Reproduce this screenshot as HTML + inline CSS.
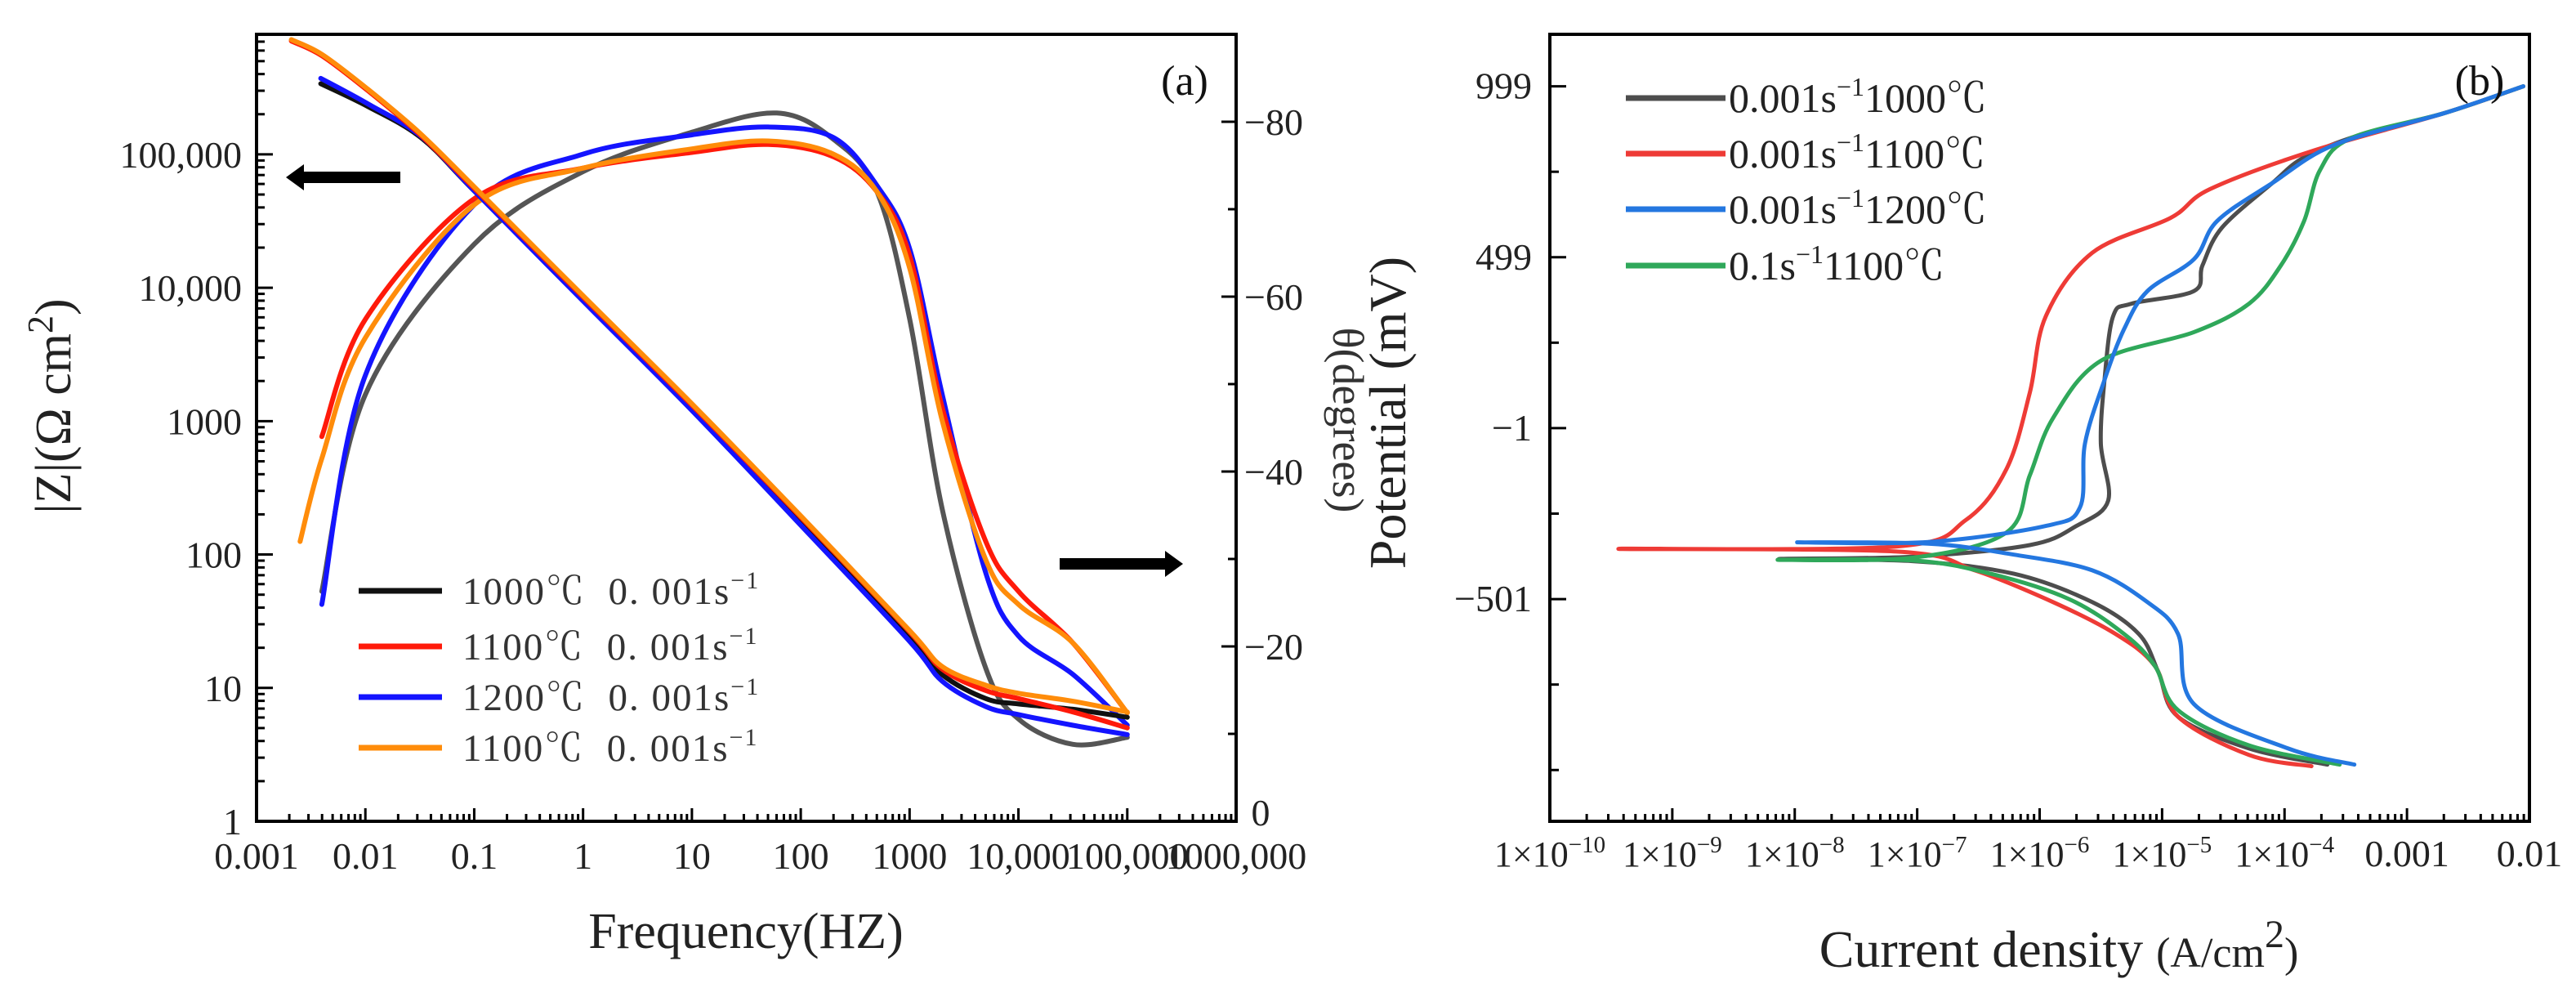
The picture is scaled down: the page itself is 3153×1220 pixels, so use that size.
<!DOCTYPE html>
<html><head><meta charset="utf-8">
<style>
html,body{margin:0;padding:0;background:#fff;}
svg{display:block;font-family:"Liberation Serif","Noto Serif CJK SC",serif;}
</style></head>
<body>
<svg id="chart" width="3153" height="1220" viewBox="0 0 3153 1220" xmlns="http://www.w3.org/2000/svg">
<g id="pa"></g>
<g id="pb"></g>
</svg>
<script>
// ---------- Panel (a) data: log10(frequency), log10(|Z|), phase (deg, magnitude) ----------
const zBlackF = [-2.41,-1.98,-1.48,-0.98,0,1,2,3,3.3,3.7,4,4.5,5];
const zBlackV = [5.53,5.36,5.12,4.71,3.92,3.10,2.25,1.39,1.10,0.92,0.88,0.84,0.78];
const zBlueF  = [-2.41,-1.98,-1.48,-0.98,0,1,2,3,3.3,3.7,4,4.5,5];
const zBlueV  = [5.57,5.38,5.13,4.71,3.90,3.08,2.22,1.35,1.05,0.86,0.80,0.72,0.65];
const zRedF   = [-2.68,-2.4,-1.98,-1.5,-0.98,0,1,2,3,3.3,3.7,4,4.5,5];
const zRedV   = [5.85,5.74,5.48,5.15,4.73,3.93,3.12,2.28,1.42,1.14,0.98,0.92,0.82,0.70];
const zOrangeF= [-2.68,-2.4,-1.98,-1.5,-0.98,0,1,2,3,3.3,3.7,4,4.5,5];
const zOrangeV= [5.86,5.75,5.49,5.16,4.74,3.94,3.13,2.29,1.43,1.16,1.02,0.96,0.90,0.82];

const phGrayF  = [-2.4,-2.0,-1.0,0,1,1.78,2.3,2.7,3.0,3.3,3.7,4.0,4.5,5.0];
const phGrayV  = [26.3,48.8,66,74.3,78.8,81,78,72,57.5,35.7,17.5,11.7,8.8,9.6];
const phBlueF  = [-2.4,-2.0,-1.0,0,1,1.7,2.3,2.7,3.0,3.3,3.7,4.0,4.5,5.0];
const phBlueV  = [24.8,51,70.5,76.3,78.5,79.4,78.2,72.7,65.5,48.8,28.4,21.2,16.8,11];
const phRedF   = [-2.4,-2.0,-1.0,0,1,1.7,2.3,2.7,3.0,3.3,3.7,4.0,4.5,5.0];
const phRedV   = [44,57.4,71.2,74.7,76.5,77.4,76,72,64.7,47.3,32,26.3,20.4,12.4];
const phOrangeF= [-2.6,-2.4,-2.0,-1.0,0,1,1.7,2.3,2.7,3.0,3.3,3.7,4.0,4.5,5.0];
const phOrangeV= [32,41.5,55.3,70.5,74.7,76.9,77.8,76.3,72,63.3,45.8,29.9,24.8,20.4,12.4];

const aXTicks = ["0.001","0.01","0.1","1","10","100","1000","10,000","100,000","1000,000"];
const aYTicks = ["1","10","100","1000","10,000","100,000"];
const aPhTicks = ["0","\u221220","\u221240","\u221260","\u221280"];
const aLegend = ["1000\u2103  0. 001s","1100\u2103  0. 001s","1200\u2103  0. 001s","1100\u2103  0. 001s"];

// ---------- Panel (b) data: log10(i), E (mV) ----------
const bGrayX = [-3.65,-4.29,-4.87,-5.03,-5.19,-5.57,-6.21,-7.04,-8.13,-7.04,-6.08,-5.7,-5.44,-5.5,-5.47,-5.4,-5.25,-4.74,-4.67,-4.51,-4.1,-3.84,-3.39,-2.69,-2.05];
const bGrayY = [-985,-938,-845,-715,-603,-510,-427,-390,-384,-377,-343,-287,-213,-46,140,326,363,400,475,586,716,791,856,921,999];
const bRedX  = [-3.78,-4.29,-4.87,-5.06,-5.38,-5.89,-6.53,-7.17,-9.44,-7.17,-6.6,-6.27,-6.08,-5.95,-5.57,-4.93,-4.61,-3.78,-2.69,-2.05];
const bRedY  = [-990,-957,-845,-696,-603,-510,-417,-362,-354,-347,-269,-120,103,326,512,614,698,809,921,999];
const bBlueX = [-3.43,-3.97,-4.74,-4.87,-5.12,-5.57,-6.21,-6.91,-7.98,-6.91,-5.95,-5.67,-5.63,-5.47,-5.31,-5.12,-4.74,-4.55,-4.1,-3.59,-2.69,-2.05];
const bBlueY = [-985,-938,-808,-603,-510,-417,-371,-339,-335,-334,-287,-232,-46,140,289,400,493,605,716,828,921,999];
const bGreenX= [-3.55,-4.29,-4.87,-5.06,-5.31,-5.76,-6.4,-7.04,-8.14,-7.04,-6.27,-6.08,-5.89,-5.5,-4.74,-4.29,-4.03,-3.84,-3.71,-3.46,-2.69,-2.05];
const bGreenY= [-985,-929,-826,-696,-603,-501,-427,-388,-386,-380,-306,-139,29,196,280,363,475,605,754,847,921,999];

const bXTickExp = ["\u221210","\u22129","\u22128","\u22127","\u22126","\u22125","\u22124"];
const bXTickPlain = ["0.001","0.01"];
const bYTicks = ["999","499","\u22121","\u2212501"];
const bYVals = [999,499,-1,-501];
const bLegendA = ["0.001s","0.001s","0.001s","0.1s"];
const bLegendB = ["1000\u2103","1100\u2103","1200\u2103","1100\u2103"];

// ---------- helpers ----------
const NS = "http://www.w3.org/2000/svg";
function mk(tag, attrs, parent){const e=document.createElementNS(NS,tag);for(const k in attrs)e.setAttribute(k,attrs[k]);parent.appendChild(e);return e;}
function smooth(pts){
  let d="M"+pts[0][0].toFixed(1)+","+pts[0][1].toFixed(1);
  for(let i=0;i<pts.length-1;i++){
    const p0=pts[i-1]||pts[i],p1=pts[i],p2=pts[i+1],p3=pts[i+2]||p2;
    const c1=[p1[0]+(p2[0]-p0[0])/6,p1[1]+(p2[1]-p0[1])/6];
    const c2=[p2[0]-(p3[0]-p1[0])/6,p2[1]-(p3[1]-p1[1])/6];
    d+="C"+c1[0].toFixed(1)+","+c1[1].toFixed(1)+" "+c2[0].toFixed(1)+","+c2[1].toFixed(1)+" "+p2[0].toFixed(1)+","+p2[1].toFixed(1);
  }
  return d;
}

// ---------- Panel (a) ----------
const pa=document.getElementById('pa');
const AL=314,AR=1513,AT=42,AB=1005;
const ax=v=>AL+(v+3)*(AR-AL)/9;
const ayZ=v=>AB-v*(AB-AT)/5.9;
const ayP=v=>AB-v*(AB-AT)/90;

function drawLine(parent,xs,ys,fx,fy,color,w,name){
  const pts=xs.map((x,i)=>[fx(x),fy(ys[i])]);
  const p=mk('path',{d:smooth(pts),fill:'none',stroke:color,'stroke-width':w,'stroke-linejoin':'round','stroke-linecap':'round'},parent);
  
  
}
const clipA=mk('clipPath',{id:'clipA'},pa);mk('rect',{x:AL,y:AT,width:AR-AL,height:AB-AT},clipA);
const gA=mk('g',{'clip-path':'url(#clipA)'},pa);
drawLine(gA,phGrayF,phGrayV,ax,ayP,'#555555',6,'phase-line-1000c');
drawLine(gA,phBlueF,phBlueV,ax,ayP,'#1414ff',6,'phase-line-1200c');
drawLine(gA,phRedF,phRedV,ax,ayP,'#ff1a0a',6,'phase-line-1100c');
drawLine(gA,phOrangeF,phOrangeV,ax,ayP,'#ff8c0a',6,'phase-line-1100c-b');
drawLine(gA,zBlackF,zBlackV,ax,ayZ,'#111111',6,'impedance-line-1000c');
drawLine(gA,zBlueF,zBlueV,ax,ayZ,'#1414ff',6,'impedance-line-1200c');
drawLine(gA,zRedF,zRedV,ax,ayZ,'#ff1a0a',6,'impedance-line-1100c');
drawLine(gA,zOrangeF,zOrangeV,ax,ayZ,'#ff8c0a',6,'impedance-line-1100c-b');

let fr=mk('rect',{x:AL,y:AT,width:AR-AL,height:AB-AT,fill:'none',stroke:'#000','stroke-width':4},pa);

aXTicks.forEach((t,i)=>{
  const x=ax(i-3);
  if(i>0&&i<9) mk('line',{x1:x,y1:AB,x2:x,y2:AB-16,stroke:'#000','stroke-width':3},pa);
  if(i<9) for(let m=2;m<10;m++){const xm=ax(i-3+Math.log10(m));mk('line',{x1:xm,y1:AB,x2:xm,y2:AB-9,stroke:'#000','stroke-width':3},pa);}
  const tx=mk('text',{x:x,y:1063,'font-size':46,'text-anchor':'middle',fill:'#222'},pa);tx.textContent=t;
  
});
aYTicks.forEach((t,i)=>{
  const y=ayZ(i);
  if(i>0) mk('line',{x1:AL,y1:y,x2:AL+20,y2:y,stroke:'#000','stroke-width':3},pa);
  for(let m=2;m<10;m++){const ym=ayZ(i+Math.log10(m));if(ym>AT)mk('line',{x1:AL,y1:ym,x2:AL+10,y2:ym,stroke:'#000','stroke-width':3},pa);}
  const tx=mk('text',{x:AL-18,y:y+16,'font-size':46,'text-anchor':'end',fill:'#222'},pa);tx.textContent=t;
  
});
aPhTicks.forEach((t,i)=>{
  const y=ayP(i*20);
  if(i>0) mk('line',{x1:AR,y1:y,x2:AR-18,y2:y,stroke:'#000','stroke-width':3},pa);
  const ym=ayP(i*20+10);mk('line',{x1:AR,y1:ym,x2:AR-10,y2:ym,stroke:'#000','stroke-width':3},pa);
  const tx=mk('text',{x:i===0?AR+30:AR+10,y:y+(i===0?5:16),'font-size':46,'text-anchor':i===0?'middle':'start',fill:'#222'},pa);tx.textContent=t;
  
});
let t1=mk('text',{x:0,y:0,'font-size':62,'text-anchor':'middle',transform:'translate(86,497) rotate(-90)',fill:'#222'},pa);
t1.innerHTML='|Z|(\u03A9 cm<tspan dy="-22" font-size="44">2</tspan><tspan dy="22">)</tspan>';

let t2=mk('text',{x:913,y:1160,'font-size':62,'text-anchor':'middle',fill:'#222'},pa);t2.textContent='Frequency(HZ)';

let t3=mk('text',{x:1450,y:116,'font-size':52,'text-anchor':'middle',fill:'#111'},pa);t3.textContent='(a)';

let t4=mk('text',{x:0,y:0,'font-size':54,'text-anchor':'middle',transform:'translate(1632,514) rotate(90)',fill:'#333'},pa);t4.textContent='\u03B8(degrees)';

let ar1=mk('path',{d:'M350,217 L372,201 L372,210 L490,210 L490,224 L372,224 L372,233 Z',fill:'#000'},pa);

let ar2=mk('path',{d:'M1448,690 L1426,674 L1426,683 L1297,683 L1297,697 L1426,697 L1426,706 Z',fill:'#000'},pa);

const aCols=['#111111','#ff1a0a','#1414ff','#ff8c0a'];const aLy=[723,791,853,915];
aLegend.forEach((t,i)=>{
  const g=mk('g',{},pa);
  mk('line',{x1:439,y1:aLy[i],x2:541,y2:aLy[i],stroke:aCols[i],'stroke-width':7},g);
  const tx=mk('text',{x:566,y:aLy[i]+16,'font-size':47,'letter-spacing':2,fill:'#333'},g);
  tx.innerHTML=t.replace(/ /g,'\u00A0')+'<tspan dy="-19" font-size="30">\u22121</tspan>';
});

// ---------- Panel (b) ----------
const pb=document.getElementById('pb');
const BL=1897,BR=3096,BT=42,BB=1005;
const bx=v=>BL+(v+10)*(BR-BL)/8;
const by=v=>BT+(1151-v)*(BB-BT)/2302;
const clipB=mk('clipPath',{id:'clipB'},pb);mk('rect',{x:BL,y:BT,width:BR-BL,height:BB-BT},clipB);
const gB=mk('g',{'clip-path':'url(#clipB)'},pb);
drawLine(gB,bGrayX,bGrayY,bx,by,'#4d4d4d',5,'polarization-line-1000c');
drawLine(gB,bRedX,bRedY,bx,by,'#ee3b36',5,'polarization-line-1100c');
drawLine(gB,bGreenX,bGreenY,bx,by,'#2fa85a',5,'polarization-line-0.1s-1100c');
drawLine(gB,bBlueX,bBlueY,bx,by,'#2477e0',5,'polarization-line-1200c');
let fb=mk('rect',{x:BL,y:BT,width:BR-BL,height:BB-BT,fill:'none',stroke:'#000','stroke-width':4},pb);

for(let i=0;i<9;i++){
  const x=bx(i-10);
  if(i>0&&i<8) mk('line',{x1:x,y1:BB,x2:x,y2:BB-16,stroke:'#000','stroke-width':3},pb);
  if(i<8) for(let m=2;m<10;m++){const xm=bx(i-10+Math.log10(m));mk('line',{x1:xm,y1:BB,x2:xm,y2:BB-9,stroke:'#000','stroke-width':3},pb);}
  const tx=mk('text',{x:x,y:1060,'font-size':i<7?44:46,'text-anchor':'middle',fill:'#222'},pb);
  if(i<7) tx.innerHTML='1\u00D710<tspan dy="-17" font-size="29">'+bXTickExp[i]+'</tspan>';
  else tx.textContent=bXTickPlain[i-7];
  
}
for(let v=-1001;v<=1000;v+=250){
  const y=by(v);const major=bYVals.includes(v);
  mk('line',{x1:BL,y1:y,x2:BL+(major?20:11),y2:y,stroke:'#000','stroke-width':3},pb);
}
bYTicks.forEach((t,i)=>{
  const tx=mk('text',{x:BL-22,y:by(bYVals[i])+15,'font-size':46,'text-anchor':'end',fill:'#222'},pb);tx.textContent=t;
  
});
let u1=mk('text',{x:0,y:0,'font-size':64,'text-anchor':'middle',transform:'translate(1720,505) rotate(-90)',fill:'#222'},pb);u1.textContent='Potential (mV)';

let u2=mk('text',{x:2520,y:1183,'font-size':64,'text-anchor':'middle',fill:'#222'},pb);
u2.innerHTML='Current density <tspan font-size="52">(A/cm</tspan><tspan dy="-24" font-size="48">2</tspan><tspan dy="24" font-size="52">)</tspan>';

let u3=mk('text',{x:3035,y:116,'font-size':52,'text-anchor':'middle',fill:'#111'},pb);u3.textContent='(b)';

const bCols=['#4d4d4d','#ee3b36','#2477e0','#2fa85a'];const bLy=[120,188,256,325];
bLegendA.forEach((t,i)=>{
  const g=mk('g',{},pb);
  mk('line',{x1:1990,y1:bLy[i],x2:2112,y2:bLy[i],stroke:bCols[i],'stroke-width':7},g);
  const tx=mk('text',{x:2116,y:bLy[i]+17,'font-size':50,fill:'#222'},g);
  tx.innerHTML=t+'<tspan dy="-20" font-size="32">\u22121</tspan><tspan dy="20">'+bLegendB[i]+'</tspan>';
});
</script>
</body></html>
